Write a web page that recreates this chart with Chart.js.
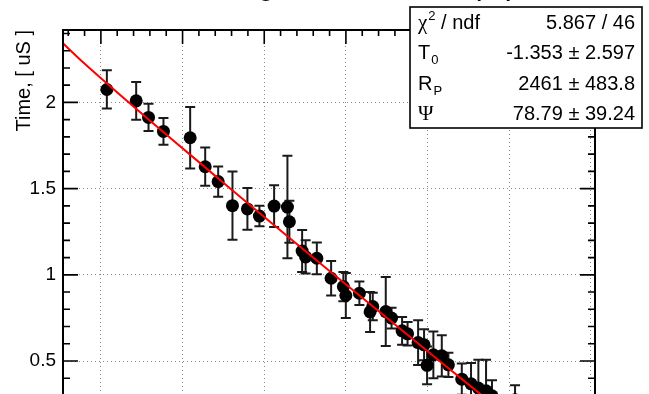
<!DOCTYPE html>
<html>
<head>
<meta charset="utf-8">
<script src="https://cdn.jsdelivr.net/npm/chart.js@4.4.1/dist/chart.umd.min.js"></script>
<style>
  html, body { margin: 0; padding: 0; background: #fff; overflow: hidden; }
  #wrap { width: 649px; height: 394px; overflow: hidden; position: relative; }
  #plot { position: absolute; left: 0; top: 0; }
</style>
</head>
<body>
<div id="wrap"><canvas id="plot" width="649" height="460"></canvas></div>
<script>
// measured points: position, time [uS], error on time
const xPos = [10.73, 14.32, 15.83, 17.66, 20.93, 22.77, 24.36, 26.11, 27.94, 29.41,
              31.21, 32.84, 33.08, 34.64, 35.07, 36.44, 38.19, 39.69, 39.99, 41.65,
              42.96, 43.29, 44.88, 45.59, 46.88, 47.55, 48.84, 49.57, 49.94, 50.71,
              51.74, 52.55, 54.19, 55.32, 56.22, 57.16, 57.89, 60.71];
const tMeas = [2.075, 2.009, 1.913, 1.832, 1.795, 1.627, 1.541, 1.401, 1.382, 1.341,
               1.399, 1.393, 1.308, 1.138, 1.104, 1.096, 0.980, 0.932, 0.880, 0.893,
               0.785, 0.816, 0.787, 0.749, 0.675, 0.658, 0.607, 0.594, 0.475, 0.536,
               0.530, 0.478, 0.395, 0.368, 0.343, 0.327, 0.298, 0.275];
const tErr = [0.111, 0.110, 0.079, 0.078, 0.178, 0.111, 0.088, 0.198, 0.121, 0.059,
              0.121, 0.297, 0.122, 0.122, 0.097, 0.092, 0.100, 0.085, 0.130, 0.068,
              0.116, 0.080, 0.200, 0.060, 0.080, 0.068, 0.130, 0.090, 0.110, 0.136,
              0.120, 0.070, 0.090, 0.120, 0.165, 0.180, 0.090, 0.085];

// fitted curve, sampled
const fitX = [5.36, 7.54, 24.6, 38.07, 51.54, 56.43, 62.0];
const fitT = [2.343, 2.245, 1.550, 1.019, 0.497, 0.310, 0.095];

const xTicks = [10, 20, 30, 40, 50, 60, 70];
const yTicks = [0.5, 1, 1.5, 2];

const titleText = "Drift timing, all channels (fit)";
const yTitle = "Time, [ uS ]";
const statNames = [["\u03C7", "2", " / ndf"], ["T", "0", ""], ["R", "P", ""], ["\u03A8", "", ""]];
const statValues = ["5.867 / 46", "-1.353 \u00B1 2.597", "2461 \u00B1 483.8", "78.79 \u00B1 39.24"];

const SANS = '"Liberation Sans", Arial, Helvetica, sans-serif';
const SERIF = '"Liberation Serif", "Times New Roman", serif';

const rootFrame = {
  id: "rootFrame",
  beforeDatasetsDraw(chart) {
    const { ctx, chartArea: a, scales: { x, y } } = chart;
    ctx.save();
    ctx.beginPath();
    ctx.rect(a.left, a.top, a.right - a.left, a.bottom - a.top);
    ctx.clip();
    ctx.strokeStyle = "#1a1a1a";
    ctx.lineWidth = 2;
    xPos.forEach((xv, i) => {
      const px = x.getPixelForValue(xv);
      const hi = y.getPixelForValue(tMeas[i] + tErr[i]);
      const lo = y.getPixelForValue(tMeas[i] - tErr[i]);
      ctx.beginPath();
      ctx.moveTo(px, hi); ctx.lineTo(px, lo);
      ctx.moveTo(px - 5, hi); ctx.lineTo(px + 5, hi);
      ctx.moveTo(px - 5, lo); ctx.lineTo(px + 5, lo);
      ctx.stroke();
    });
    ctx.restore();
  },
  afterDraw(chart) {
    const { ctx, chartArea: a, scales: { x, y } } = chart;
    ctx.save();

    // frame
    ctx.strokeStyle = "#000";
    ctx.lineWidth = 2;
    ctx.strokeRect(a.left, a.top, a.right - a.left, a.bottom - a.top);

    // inward ticks, 5 subdivisions per major
    ctx.lineWidth = 1.6;
    ctx.beginPath();
    for (let k = 1; k <= 24; k++) {
      const py = y.getPixelForValue(k / 10);
      const len = k % 5 === 0 ? 15 : 7;
      ctx.moveTo(a.left, py); ctx.lineTo(a.left + len, py);
      ctx.moveTo(a.right, py); ctx.lineTo(a.right - len, py);
    }
    for (let v = 6; v <= 70; v += 2) {
      const px = x.getPixelForValue(v);
      const len = v % 10 === 0 ? 14 : 6;
      ctx.moveTo(px, a.top); ctx.lineTo(px, a.top + len);
      ctx.moveTo(px, a.bottom); ctx.lineTo(px, a.bottom - len);
    }
    ctx.stroke();

    // title, mostly above the top edge
    ctx.fillStyle = "#000";
    ctx.font = "32px " + SANS;
    ctx.textAlign = "left";
    ctx.textBaseline = "alphabetic";
    ctx.fillText(titleText, 122, -6);

    // stats box
    const bx = 410, by = 7, bw = 232, bh = 121;
    ctx.fillStyle = "#fff";
    ctx.fillRect(bx, by, bw, bh);
    ctx.strokeStyle = "#000";
    ctx.lineWidth = 1.6;
    ctx.strokeRect(bx, by, bw, bh);

    ctx.fillStyle = "#000";
    const rowY = [29, 59, 90, 120];
    statNames.forEach(([sym, sub, rest], i) => {
      let cx = 418;
      const base = rowY[i];
      const greek = sym === "\u03C7" || sym === "\u03A8";
      ctx.font = (greek ? "21px " + SERIF : "20px " + SANS);
      ctx.textAlign = "left";
      ctx.fillText(sym, cx, base);
      cx += ctx.measureText(sym).width + 1;
      if (sub) {
        ctx.font = "13px " + SANS;
        const dy = i === 0 ? -9 : 5;
        ctx.fillText(sub, cx, base + dy);
        cx += ctx.measureText(sub).width;
      }
      if (rest) {
        ctx.font = "20px " + SANS;
        ctx.fillText(rest, cx, base);
      }
      ctx.font = "20px " + SANS;
      ctx.textAlign = "right";
      ctx.fillText(statValues[i], 635, base);
    });

    ctx.restore();
  }
};

new Chart(document.getElementById("plot"), {
  type: "scatter",
  data: {
    datasets: [
      {
        label: "fit",
        data: fitX.map((v, i) => ({ x: v, y: fitT[i] })),
        showLine: true,
        borderColor: "#ff0000",
        borderWidth: 2,
        pointRadius: 0,
        cubicInterpolationMode: "monotone",
        order: 0,
      },
      {
        label: "data",
        data: xPos.map((v, i) => ({ x: v, y: tMeas[i] })),
        pointRadius: 6.5,
        pointBackgroundColor: "#000",
        pointBorderWidth: 0,
        order: 1,
      },
    ],
  },
  options: {
    responsive: false,
    animation: false,
    devicePixelRatio: 1,
    layout: { padding: { left: 0, top: 30, right: 54, bottom: 0 } },
    plugins: { legend: { display: false }, tooltip: { enabled: false } },
    scales: {
      x: {
        type: "linear",
        min: 5.36,
        max: 70.5,
        afterBuildTicks: (s) => { s.ticks = xTicks.map((v) => ({ value: v })); },
        afterFit: (s) => { s.height = 30; },
        ticks: { display: false },
        grid: { color: "#888", lineWidth: 1, drawTicks: false },
        border: { display: false, dash: [1, 3] },
      },
      y: {
        type: "linear",
        min: 0.1,
        max: 2.42,
        afterBuildTicks: (s) => { s.ticks = yTicks.map((v) => ({ value: v })); },
        afterFit: (s) => { s.width = 63; },
        ticks: {
          color: "#000",
          padding: 7,
          font: { family: SANS, size: 19 },
          callback: (v) => String(v),
        },
        grid: { color: "#888", lineWidth: 1, drawTicks: false },
        border: { display: false, dash: [1, 3] },
        title: {
          display: true,
          text: yTitle,
          align: "end",
          color: "#000",
          font: { family: SANS, size: 20 },
          padding: { top: 12, bottom: 0 },
        },
      },
    },
  },
  plugins: [rootFrame],
});
</script>
</body>
</html>
